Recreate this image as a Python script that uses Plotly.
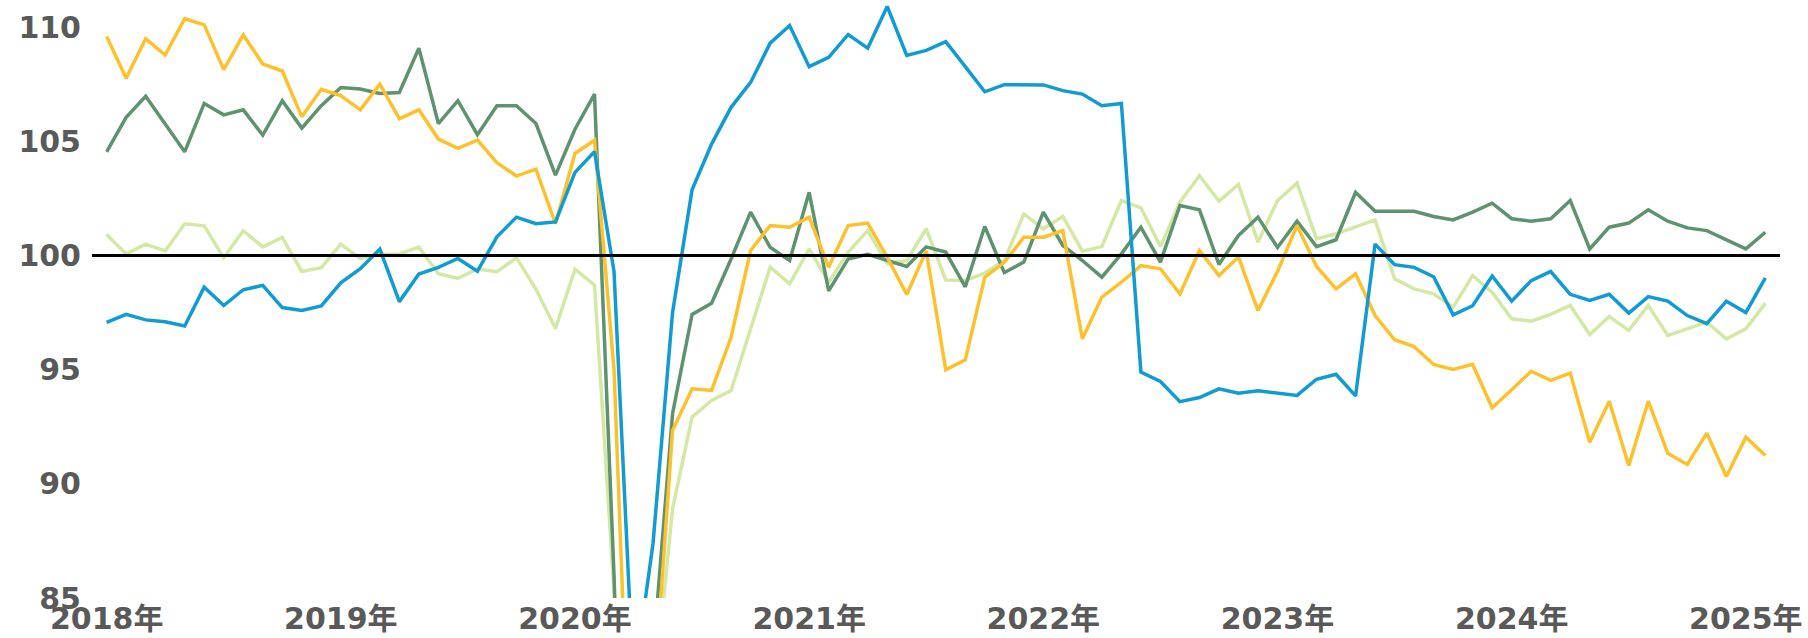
import plotly.graph_objects as go

# Monthly index: 0 = Jan 2018 ... 85 = Feb 2025
months = list(range(86))

year_ticks = [0, 12, 24, 36, 48, 60, 72, 84]
year_labels = ["2018年", "2019年", "2020年", "2021年", "2022年", "2023年", "2024年", "2025年"]

y_ticks = [85, 90, 95, 100, 105, 110]

light_green = [
    100.92, 100.07, 100.50, 100.20, 101.39, 101.30, 99.90, 101.08, 100.38, 100.79, 99.30, 99.47,
    100.50, 99.86, 100.05, 100.07, 100.37, 99.20, 99.00, 99.41, 99.29, 99.90, 98.53, 96.80,
    99.40, 98.70, 85.30, 65.00, 80.20, 88.90, 92.92, 93.65, 94.09, 96.80, 99.49, 98.76,
    100.29, 98.83, 100.15, 101.09, 99.64, 99.78, 101.17, 98.93, 98.91, 99.23, 99.78, 101.82,
    101.17, 101.71, 100.19, 100.39, 102.41, 102.09, 100.39, 102.34, 103.50, 102.38, 103.11, 100.58,
    102.41, 103.17, 100.73, 100.95, 101.24, 101.56, 98.98, 98.54, 98.32, 97.74, 99.12, 98.39,
    97.23, 97.12, 97.42, 97.81, 96.54, 97.33, 96.72, 97.81, 96.50, 96.79, 97.08, 96.35,
    96.79, 97.91,
]

dark_green = [
    104.54, 106.05, 106.97, 105.75, 104.54, 106.66, 106.16, 106.38, 105.27, 106.78, 105.58, 106.56,
    107.36, 107.29, 107.10, 107.14, 109.08, 105.78, 106.78, 105.29, 106.56, 106.56, 105.78, 103.52,
    105.53, 107.07, 86.00, 60.00, 82.50, 93.07, 97.42, 97.91, 99.85, 101.90, 100.36, 99.78,
    102.77, 98.45, 99.85, 100.05, 99.78, 99.52, 100.38, 100.15, 98.63, 101.27, 99.25, 99.71,
    101.90, 100.44, 99.78, 99.05, 100.07, 101.24, 99.71, 102.19, 102.00, 99.61, 100.88, 101.68,
    100.35, 101.50, 100.39, 100.69, 102.77, 101.94, 101.94, 101.94, 101.71, 101.56, 101.90, 102.29,
    101.61, 101.50, 101.61, 102.41, 100.29, 101.24, 101.42, 102.00, 101.50, 101.21, 101.09, 100.69,
    100.29, 101.02,
]

yellow = [
    109.59, 107.76, 109.49, 108.78, 110.37, 110.10, 108.14, 109.66, 108.39, 108.08, 106.08, 107.28,
    107.00, 106.38, 107.50, 105.99, 106.38, 105.10, 104.69, 105.05, 104.07, 103.48, 103.78, 101.39,
    104.47, 105.05, 95.00, 72.50, 80.10, 92.34, 94.16, 94.09, 96.42, 100.22, 101.31, 101.24,
    101.68, 99.49, 101.31, 101.42, 99.93, 98.29, 100.20, 94.99, 95.43, 99.05, 99.70, 100.80,
    100.80, 101.09, 96.35, 98.18, 98.83, 99.56, 99.42, 98.32, 100.22, 99.12, 99.93, 97.59,
    99.30, 101.31, 99.52, 98.54, 99.20, 97.37, 96.31, 96.01, 95.23, 95.01, 95.23, 93.33,
    94.12, 94.93, 94.53, 94.85, 91.82, 93.62, 90.80, 93.62, 91.34, 90.85, 92.22, 90.32,
    92.04, 91.24,
]

blue = [
    97.07, 97.42, 97.18, 97.10, 96.91, 98.61, 97.81, 98.50, 98.69, 97.72, 97.59, 97.79,
    98.80, 99.42, 100.28, 97.98, 99.19, 99.48, 99.87, 99.31, 100.82, 101.68, 101.39, 101.47,
    103.64, 104.55, 99.30, 81.20, 87.40, 97.50, 102.88, 104.88, 106.49, 107.58, 109.30, 110.07,
    108.27, 108.68, 109.68, 109.08, 110.91, 108.76, 108.98, 109.37, 108.27, 107.17, 107.48, 107.48,
    107.47, 107.22, 107.07, 106.56, 106.66, 94.89, 94.48, 93.60, 93.78, 94.16, 93.97, 94.08,
    93.97, 93.87, 94.58, 94.80, 93.85, 100.50, 99.60, 99.48, 99.07, 97.40, 97.80, 99.10,
    98.00, 98.90, 99.30, 98.30, 98.03, 98.30, 97.48, 98.20, 98.00, 97.37, 97.02, 98.00,
    97.50, 99.02,
]

series = [
    ("light green", light_green, "#D2E8A4"),
    ("dark green", dark_green, "#5F926E"),
    ("yellow", yellow, "#FBC22E"),
    ("blue", blue, "#119BD3"),
]

fig = go.Figure()
for name, values, color in series:
    fig.add_trace(go.Scatter(
        x=months, y=values, mode="lines", name=name,
        line=dict(color=color, width=3.5),
        showlegend=False,
    ))

# Baseline at 100 across the full plot width
fig.add_shape(
    type="line", xref="paper", x0=0, x1=1, yref="y", y0=100, y1=100,
    line=dict(color="#000000", width=3), layer="above",
)

label_font = dict(family="DejaVu Sans, Noto Sans CJK JP", size=30, color="#595959", weight="bold")

fig.update_layout(
    width=1808, height=638,
    margin=dict(l=92, r=28, t=0, b=40),
    paper_bgcolor="white", plot_bgcolor="white",
    xaxis=dict(
        range=[-0.75, 85.75],
        tickmode="array", tickvals=year_ticks, ticktext=year_labels,
        showgrid=False, zeroline=False, showline=False, ticks="",
        tickfont=label_font,
    ),
    yaxis=dict(
        range=[85, 111.19],
        tickmode="array", tickvals=y_ticks,
        showgrid=False, zeroline=False, showline=False, ticks="",
        tickfont=label_font, ticklabelstandoff=10,
    ),
)

fig.write_html("out.html")
